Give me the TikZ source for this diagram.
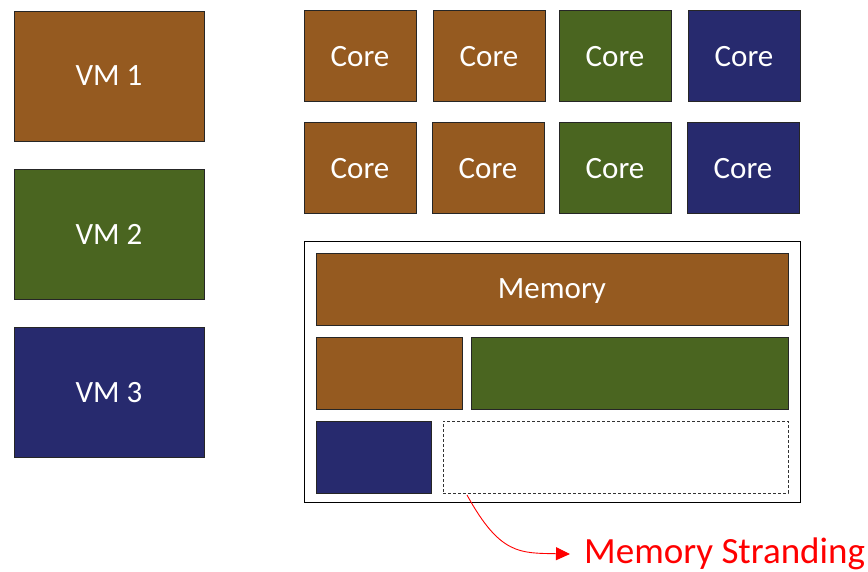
\documentclass[tikz,border=0pt]{standalone}
\usepackage{fontspec}
\setmainfont{Carlito}
\usetikzlibrary{arrows.meta}

\definecolor{vmbrown}{HTML}{955A20}
\definecolor{vmgreen}{HTML}{4A6520}
\definecolor{vmblue}{HTML}{272A6E}

\tikzset{
  blk/.style={draw=black!85,line width=0.9pt,inner sep=0pt,text=white,
    font=\fontsize{31}{34}\selectfont,text depth=0pt},
  vmbox/.style={blk,minimum width=190,minimum height=130},
  corebox/.style={blk,minimum width=112,minimum height=91},
  membox/.style={blk,minimum height=72}
}

\begin{document}
\begin{tikzpicture}[x=1pt,y=-1pt]
            \useasboundingbox (0,0) rectangle (868,572);

            % Place the VMs
            \node[vmbox,fill=vmbrown] (vm1) at (109,76) {VM 1};
            \node[vmbox,fill=vmgreen] (vm2) at (109,234) {VM 2};
            \node[vmbox,fill=vmblue] (vm3) at (109,392) {VM 3};

            % Place the cores
            \node[corebox,fill=vmbrown] (c1) at (360,56) {Core};
            \node[corebox,fill=vmbrown] (c2) at (489,56) {Core};
            \node[corebox,fill=vmgreen] (c3) at (615,56) {Core};
            \node[corebox,fill=vmblue] (c4) at (744,56) {Core};
            \node[corebox,fill=vmbrown] (c5) at (360,168) {Core};
            \node[corebox,fill=vmbrown] (c6) at (488,168) {Core};
            \node[corebox,fill=vmgreen] (c7) at (615,168) {Core};
            \node[corebox,fill=vmblue] (c8) at (743,168) {Core};

            % The memory
            \node[draw=black,line width=1pt,minimum width=496,minimum height=260] (mem) at (552,372) {};
            \node[membox,fill=vmbrown,minimum width=472] (m0) at (552,289) {Memory};
            \node[membox,fill=vmbrown,minimum width=146] (m1) at (389,373) {};
            \node[membox,fill=vmgreen,minimum width=317] (m2) at (629.5,373) {};
            \node[membox,fill=vmblue,minimum width=115] (m3) at (373.5,457) {};
            \node[draw=black!80,densely dashed,line width=0.9pt,minimum width=345,minimum height=72] (free) at (615.5,457) {};

            % The stranding arrow
            \node[red,anchor=west,inner sep=0pt,font=\fontsize{37}{40}\selectfont] (strand) at (584,554) {Memory Stranding};
            \coordinate (s) at (467,495);
            \draw[red,line width=0.9pt,-{Triangle[length=14,width=13]}] (s) .. controls (500,555) and (520,553) .. ([xshift=-14]strand.west);
        \end{tikzpicture}
\end{document}
